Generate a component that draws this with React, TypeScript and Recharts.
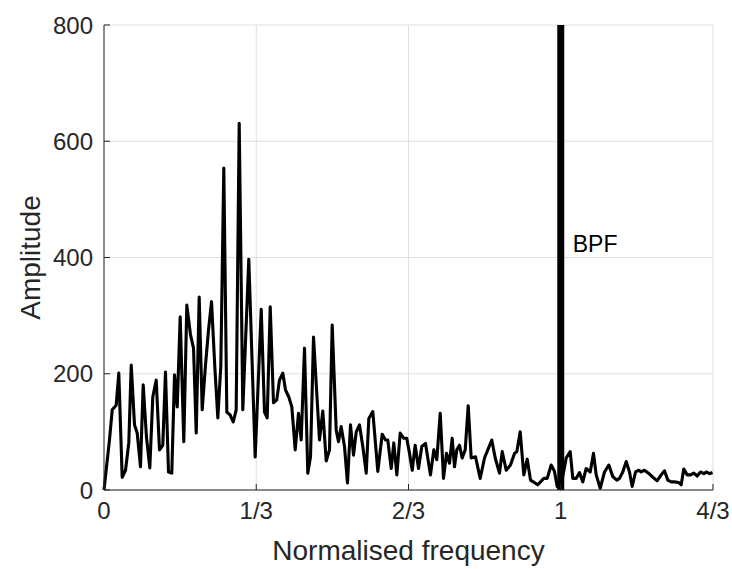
import { LineChart, Line, XAxis, YAxis, CartesianGrid, ReferenceLine, ReferenceDot } from 'recharts'

// normalised frequency of each point
const freq = [
  0, 0.012, 0.018, 0.0267, 0.0324, 0.0398, 0.0471, 0.0543, 0.0596, 0.0668,
  0.0727, 0.0799, 0.0858, 0.093, 0.1003, 0.1068, 0.1143, 0.1215, 0.1287, 0.1346,
  0.1412, 0.1484, 0.1544, 0.1603, 0.1668, 0.1747, 0.1813, 0.1894, 0.196, 0.2019,
  0.2084, 0.215, 0.2222, 0.2288, 0.2354, 0.2426, 0.2492, 0.2557, 0.2623, 0.2689,
  0.2763, 0.2829, 0.2894, 0.296, 0.3039, 0.317, 0.331, 0.3442, 0.3514, 0.3573,
  0.3639, 0.3711, 0.3783, 0.3842, 0.3915, 0.3974, 0.4046, 0.4112, 0.4186, 0.4258,
  0.4317, 0.439, 0.4462, 0.4521, 0.4587, 0.4718, 0.479, 0.4865, 0.4937, 0.4996,
  0.5084, 0.5134, 0.5193, 0.5265, 0.5331, 0.5397, 0.5463, 0.5522, 0.5594, 0.5666,
  0.5741, 0.5798, 0.5885, 0.5995, 0.6091, 0.6163, 0.6213, 0.6288, 0.6345, 0.6411,
  0.6485, 0.6564, 0.6629, 0.6689, 0.6748, 0.6813, 0.6886, 0.6958, 0.7039, 0.7148,
  0.7221, 0.7286, 0.7361, 0.7433, 0.7499, 0.7564, 0.7623, 0.7674, 0.7724, 0.7783,
  0.7842, 0.7908, 0.7974, 0.8039, 0.8134, 0.8236, 0.8331, 0.8403, 0.849, 0.8565,
  0.8659, 0.8718, 0.8806, 0.89, 0.8987, 0.9038, 0.9112, 0.9191, 0.9266, 0.9338,
  0.9497, 0.9629, 0.9703, 0.9791, 0.9863, 0.9922, 0.9995, 1.0119, 1.0207, 1.0264,
  1.0338, 1.0411, 1.0483, 1.0557, 1.0645, 1.0717, 1.0776, 1.0864, 1.0958, 1.1052,
  1.114, 1.1227, 1.1286, 1.1358, 1.1433, 1.1505, 1.1564, 1.1637, 1.1709, 1.1761,
  1.1834, 1.1921, 1.2015, 1.2112, 1.2199, 1.2271, 1.2344, 1.2418, 1.249, 1.2578,
  1.2637, 1.2694, 1.2769, 1.2841, 1.2913, 1.2987, 1.306, 1.3132, 1.3185, 1.3257,
  1.3323,
]

const amplitude = [
  0, 86, 138, 146, 201, 22, 34, 81, 215, 112,
  98, 40, 181, 91, 38, 160, 189, 69, 77, 203,
  31, 29, 198, 143, 298, 83, 318, 267, 244, 98,
  332, 138, 215, 275, 324, 212, 124, 212, 554, 134,
  129, 117, 138, 631, 138, 397, 57, 311, 134, 124,
  315, 150, 155, 189, 201, 172, 160, 143, 69, 132,
  86, 244, 29, 57, 263, 86, 136, 50, 69, 284,
  103, 83, 109, 75, 12, 112, 60, 100, 112, 75,
  29, 123, 135, 32, 96, 86, 86, 37, 81, 26,
  98, 89, 89, 63, 34, 77, 37, 75, 80, 26,
  69, 52, 132, 20, 63, 46, 89, 40, 69, 77,
  55, 69, 145, 55, 57, 20, 55, 69, 86, 55,
  29, 66, 34, 43, 63, 66, 100, 26, 53, 17,
  9, 20, 20, 43, 32, 6, 2, 55, 66, 20,
  20, 30, 14, 37, 31, 63, 26, 3, 31, 43,
  23, 17, 20, 31, 49, 31, 6, 31, 34, 31,
  34, 29, 22, 16, 26, 33, 17, 14, 14, 13,
  9, 36, 26, 26, 29, 24, 31, 28, 31, 28,
  30,
]

const xTicks = [0, 1 / 3, 2 / 3, 1, 4 / 3]
const xTickLabels = ['0', '1/3', '2/3', '1', '4/3']
const yTicks = [0, 200, 400, 600, 800]

const bpfFreq = 1
const bpfText = 'BPF'
const bpfTextAmp = 423

const data = freq.map((f, i) => ({ f, amp: amplitude[i] }))

const FONT = '"Liberation Sans", Arial, Helvetica, sans-serif'
const AXIS = '#262626'

const fmtX = (v: number) => {
  const i = xTicks.findIndex((t) => Math.abs(t - v) < 1e-6)
  return i >= 0 ? xTickLabels[i] : ''
}

const YTitle = ({ viewBox }: any) => {
  const cx = viewBox.x + 30
  const cy = viewBox.y + viewBox.height / 2
  return (
    <text x={cx} y={cy} transform={`rotate(-90 ${cx} ${cy})`} textAnchor="middle"
      dominantBaseline="central" fill={AXIS} fontSize={28} fontFamily={FONT}>
      Amplitude
    </text>
  )
}

const XTitle = ({ viewBox }: any) => {
  const cx = viewBox.x + viewBox.width / 2
  const cy = viewBox.y + 60
  return (
    <text x={cx} y={cy} textAnchor="middle" dominantBaseline="central"
      fill={AXIS} fontSize={28} fontFamily={FONT}>
      Normalised frequency
    </text>
  )
}

export default function App() {
  return (
    <div style={{ position: 'absolute', left: 0, top: 0, width: 732, height: 569, background: '#fff', fontFamily: FONT }}>
      <LineChart width={732} height={569} data={data} margin={{ top: 25, right: 19, bottom: 0, left: 0 }}>
        <CartesianGrid stroke="#e0e0e0" strokeWidth={1} />
        <XAxis
          dataKey="f"
          type="number"
          domain={[0, 4 / 3]}
          ticks={xTicks}
          interval={0}
          tickFormatter={fmtX}
          height={79}
          stroke={AXIS}
          tickSize={-6}
          tickMargin={18}
          tick={{ fill: AXIS, fontSize: 24, fontFamily: FONT }}
          label={<XTitle />}
        />
        <YAxis
          type="number"
          domain={[0, 800]}
          ticks={yTicks}
          interval={0}
          width={104}
          stroke={AXIS}
          tickSize={-6}
          tickMargin={17}
          tick={{ fill: AXIS, fontSize: 24, fontFamily: FONT }}
          label={<YTitle />}
        />
        <Line
          type="linear"
          dataKey="amp"
          stroke="#000"
          strokeWidth={3.1}
          strokeLinejoin="round"
          dot={false}
          isAnimationActive={false}
        />
        <ReferenceLine x={bpfFreq} stroke="#000" strokeWidth={7} />
        <ReferenceDot
          x={bpfFreq}
          y={bpfTextAmp}
          r={1}
          fill="none"
          stroke="none"
          label={{ value: bpfText, position: 'right', offset: 11, fill: '#000', fontSize: 23, fontFamily: FONT }}
        />
      </LineChart>
    </div>
  )
}
